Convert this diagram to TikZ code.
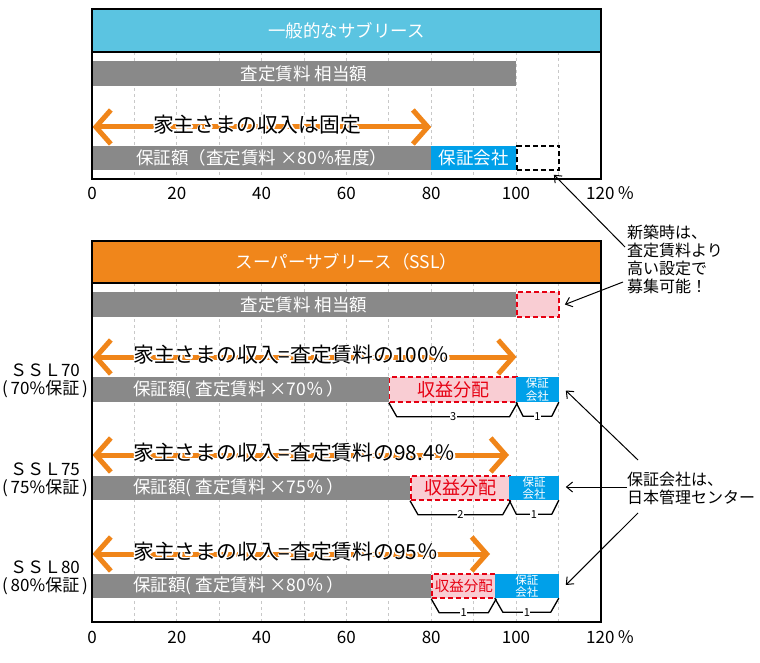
\documentclass[tikz,border=0pt]{standalone}
\usepackage{fontspec}
\setmainfont{Noto Sans CJK JP}
\usetikzlibrary{arrows.meta}
\definecolor{hdrcyan}{HTML}{5BC4E1}
\definecolor{hdrorange}{HTML}{F0861B}
\definecolor{bargray}{HTML}{898989}
\definecolor{guarblue}{HTML}{00A0E9}
\definecolor{sharepink}{HTML}{F9CDD3}
\definecolor{sharered}{HTML}{E60012}
\definecolor{gridgray}{HTML}{C8C8C8}
\definecolor{arroworange}{HTML}{F08519}
\newcommand{\fsz}[2]{\fontsize{#1pt}{#2pt}\selectfont}
\newcommand{\halo}[1]{\leavevmode
\rlap{\color{white}\special{pdf:literal direct 2 Tr 3 w 1 j}#1\special{pdf:literal direct 0 Tr 0.4 w 0 j}}%
#1}
\begin{document}
\begin{tikzpicture}[x=1pt,y=-1pt,
  declare function={ux(\u)=92+4.24*\u;},
  frame/.style={draw=black, line width=1.5pt},
  hdrbox/.style={draw=black, line width=1.5pt, inner sep=0pt, text=white, font=\fsz{17.5}{19}},
  gridline/.style={draw=gridgray, line width=0.8pt, dash pattern=on 3pt off 3pt},
  bar/.style={fill=bargray, inner sep=0pt, text=white, font=\fsz{17.5}{19}, anchor=west, minimum height=25pt},
  bartext/.style={inner sep=0pt, text=white, font=\fsz{17.5}{19}, anchor=west},
  bluebox/.style={fill=guarblue, inner sep=0pt, text=white, anchor=west, minimum height=25pt, align=center},
  pinkbox/.style={fill=sharepink, draw=sharered, line width=1.5pt, dash pattern=on 5pt off 3pt, inner sep=0pt, text=sharered, anchor=west, minimum height=25pt},
  dashbox/.style={fill=white, draw=black, line width=1.5pt, dash pattern=on 5pt off 3pt, inner sep=0pt, anchor=west, minimum height=24pt},
  incarrow/.style={draw=arroworange, line width=5pt, {Straight Barb[length=15pt,width=34pt]}-{Straight Barb[length=15pt,width=34pt]}},
  arrtext/.style={inner sep=0pt, font=\fsz{20.8}{22}, text=black},
  axlbl/.style={inner sep=0pt, font=\fsz{17}{18}},
  sidelbl/.style={inner sep=0pt, font=\fsz{17}{18}, align=center},
  annot/.style={inner sep=0pt, font=\fsz{16}{18}, align=left, anchor=west},
  callout/.style={draw=black, line width=1pt, -{Straight Barb[length=6pt,width=10pt]}},
  brk/.style={draw=black, line width=1.3pt, line join=round},
  brklbl/.style={inner sep=0.6pt, fill=white, font=\fsz{11}{12}}
]
\useasboundingbox (0,0) rectangle (760,663);
\fill[white] (0,0) rectangle (760,663);

% grid lines
\foreach \k in {1,...,11} {
  \draw[gridline] ({ux(10*\k)},52) -- ({ux(10*\k)},179);
  \draw[gridline] ({ux(10*\k)},283) -- ({ux(10*\k)},622);
}

% ===== Top: general sublease =====
\node[hdrbox, fill=hdrcyan, minimum width=509pt, minimum height=43pt] (hdrA) at (346.5,30.5) {一般的なサブリース};
\node[bar, minimum width=424pt] (rentA) at (92,73.5) {査定賃料 相当額};
\node[bar, minimum width=339.2pt, minimum height=24pt] (guarA) at (92,158) {保証額（査定賃料 ×80％程度）};
\node[bluebox, minimum width=84.8pt, minimum height=24pt, font=\fsz{17.5}{19}] (compA) at (431.2,158) {保証会社};
\node[dashbox, minimum width=42.4pt] (newA) at (516,158) {};
\coordinate (arA0) at (92.5,127);
\coordinate (arA1) at (431.2,127);
\draw[incarrow] (arA0) -- (arA1);
\node[arrtext] (txA) at (257,125) {\halo{家主さまの収入は固定}};
\draw[frame] (92,9) rectangle (601,179);
\foreach \v/\n in {0/a0,20/a1,40/a2,60/a3,80/a4,100/a5} {
  \node[axlbl] (\n) at ({ux(\v)},193) {\v};
}
\node[axlbl, anchor=west] (a6) at (586,193) {120\,％};

% ===== Bottom: super sublease =====
\node[hdrbox, fill=hdrorange, minimum width=509pt, minimum height=42pt] (hdrB) at (346.5,262) {スーパーサブリース（SSL）};
\node[bar, minimum width=424pt] (rentB) at (92,304.5) {査定賃料 相当額};
\node[pinkbox, minimum width=42.4pt] (newB) at (516,304.5) {};

% SSL70
\node[bar, minimum width=296.8pt] (g70) at (92,389.5) {};
\node[pinkbox, minimum width=127.2pt, font=\fsz{18}{19}] (p70) at (388.8,389.5) {収益分配};
\node[bluebox, minimum width=42.4pt, font=\fsz{11.5}{12.5}] (c70) at (516,389.5) {保証\\会社};
\node[bartext] (t70) at (133,389.5) {保証額(\ 査定賃料 ×70％\,）};
\coordinate (ar70a) at (92.5,357);
\coordinate (ar70b) at (516.5,357);
\draw[incarrow] (ar70a) -- (ar70b);
\node[arrtext, anchor=west] (x70) at (133,355) {\halo{家主さまの収入=査定賃料の100％}};
\draw[brk] (p70.south west) -- ++(8,14) -- node[brklbl] (k70a) {3} ([xshift=-8pt,yshift=-14pt]p70.south east) -- (p70.south east);
\draw[brk] (c70.south west) -- ++(7,14) -- node[brklbl] (k70b) {1} ([xshift=-7pt,yshift=-14pt]c70.south east) -- (c70.south east);
\node[sidelbl] (s70) at (45,381) {ＳＳＬ70\\(\,70\%保証\,)};

% SSL75
\node[bar, minimum width=318pt, minimum height=24pt] (g75) at (92,488) {};
\node[pinkbox, minimum width=99.2pt, minimum height=24pt, font=\fsz{18}{19}] (p75) at (410,488) {収益分配};
\node[bluebox, minimum width=49.2pt, minimum height=24pt, font=\fsz{11.5}{12.5}] (c75) at (509.2,488) {保証\\会社};
\node[bartext] (t75) at (133,488) {保証額(\ 査定賃料 ×75％\,）};
\coordinate (ar75a) at (92.5,455);
\coordinate (ar75b) at (509,455);
\draw[incarrow] (ar75a) -- (ar75b);
\node[arrtext, anchor=west] (x75) at (133,453) {\halo{家主さまの収入=査定賃料の98.4％}};
\draw[brk] (p75.south west) -- ++(8,14) -- node[brklbl] (k75a) {2} ([xshift=-8pt,yshift=-14pt]p75.south east) -- (p75.south east);
\draw[brk] (c75.south west) -- ++(7,14) -- node[brklbl] (k75b) {1} ([xshift=-7pt,yshift=-14pt]c75.south east) -- (c75.south east);
\node[sidelbl] (s75) at (45,480) {ＳＳＬ75\\(\,75\%保証\,)};

% SSL80
\node[bar, minimum width=339.2pt, minimum height=24pt] (g80) at (92,586) {};
\node[pinkbox, minimum width=63.6pt, minimum height=24pt, font=\fsz{14.5}{16}] (p80) at (431.2,586) {収益分配};
\node[bluebox, minimum width=63.6pt, minimum height=24pt, font=\fsz{11.5}{12.5}] (c80) at (494.8,586) {保証\\会社};
\node[bartext] (t80) at (133,586) {保証額(\ 査定賃料 ×80％\,）};
\coordinate (ar80a) at (92.5,554);
\coordinate (ar80b) at (490,554);
\draw[incarrow] (ar80a) -- (ar80b);
\node[arrtext, anchor=west] (x80) at (133,552) {\halo{家主さまの収入=査定賃料の95％}};
\draw[brk] (p80.south west) -- ++(8,14) -- node[brklbl] (k80a) {1} ([xshift=-8pt,yshift=-14pt]p80.south east) -- (p80.south east);
\draw[brk] (c80.south west) -- ++(8,14) -- node[brklbl] (k80b) {1} ([xshift=-8pt,yshift=-14pt]c80.south east) -- (c80.south east);
\node[sidelbl] (s80) at (45,577.5) {ＳＳＬ80\\(\,80\%保証\,)};

\draw[frame] (92,241) rectangle (601,622);
\foreach \v/\n in {0/b0,20/b1,40/b2,60/b3,80/b4,100/b5} {
  \node[axlbl] (\n) at ({ux(\v)},637) {\v};
}
\node[axlbl, anchor=west] (b6) at (586,637) {120\,％};

% ===== Annotations =====
\node[annot] (ann1) at (627,259) {新築時は、\\査定賃料より\\高い設定で\\募集可能！};
\node[annot] (ann2) at (627,488.5) {保証会社は、\\日本管理センター};
\coordinate (q1) at (625,247);
\coordinate (q2) at (623,282);
\coordinate (q3) at (638,460);
\coordinate (q4) at (627,487);
\coordinate (q5) at (638,513);
\draw[callout] (q1) -- ([xshift=-6pt,yshift=-4pt]newA.south east);
\draw[callout] (q2) -- ([xshift=5pt]newB.east);
\draw[callout] (q3) -- ([xshift=7pt,yshift=-1pt]c70.east);
\draw[callout] (q4) -- ([xshift=7pt,yshift=1pt]c75.east);
\draw[callout] (q5) -- ([xshift=7pt,yshift=1pt]c80.east);
\end{tikzpicture}
\end{document}
